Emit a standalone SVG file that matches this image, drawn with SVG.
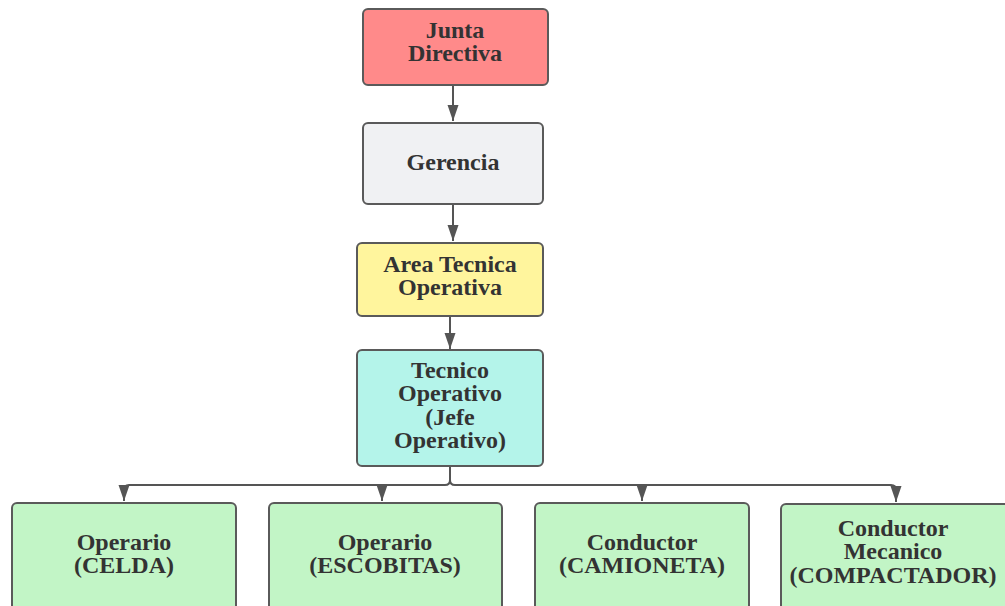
<svg xmlns="http://www.w3.org/2000/svg" width="1005" height="606" viewBox="0 0 1005 606">
<style>
.n{stroke:#5a5a5a;stroke-width:2}
.t{font-family:"Liberation Serif",serif;font-weight:bold;font-size:24px;fill:#333;text-anchor:middle}
.c{fill:none;stroke:#555;stroke-width:2}
</style>
<defs>
<marker id="d" markerWidth="12" markerHeight="16" refX="6" refY="16" orient="0" markerUnits="userSpaceOnUse" viewBox="0 0 12 16">
<path d="M0.5,0 L11.5,0 L6,16 Z" fill="#555"/>
</marker>
</defs>
<rect width="1005" height="606" fill="#fff"/>
<g id="connectors">
<path class="c" d="M453,86 V121" marker-end="url(#d)"/>
<path class="c" d="M453,205 V241" marker-end="url(#d)"/>
<path class="c" d="M450,317 V349" marker-end="url(#d)"/>
<path class="c" d="M450,467 V480 Q450,485 445,485 H129 Q124,485 124,490 V501" marker-end="url(#d)"/>
<path class="c" d="M382,485 V501" marker-end="url(#d)"/>
<path class="c" d="M450,480 Q450,485 455,485 H891 Q896,485 896,490 V502" marker-end="url(#d)"/>
<path class="c" d="M642,485 V501" marker-end="url(#d)"/>
</g>
<g id="junta">
<rect class="n" x="363" y="9" width="185" height="76" rx="5" fill="#ff8a8a"/>
<text class="t" x="455" y="38">Junta</text>
<text class="t" x="455" y="61">Directiva</text>
</g>
<g id="gerencia">
<rect class="n" x="363" y="123" width="180" height="81" rx="5" fill="#f0f1f3"/>
<text class="t" x="453" y="170">Gerencia</text>
</g>
<g id="area">
<rect class="n" x="357" y="243" width="186" height="73" rx="5" fill="#fff59d"/>
<text class="t" x="450" y="272">Area Tecnica</text>
<text class="t" x="450" y="295">Operativa</text>
</g>
<g id="tecnico">
<rect class="n" x="357" y="350" width="186" height="116" rx="5" fill="#b4f4ea"/>
<text class="t" x="450" y="378">Tecnico</text>
<text class="t" x="450" y="401">Operativo</text>
<text class="t" x="450" y="425">(Jefe</text>
<text class="t" x="450" y="448">Operativo)</text>
</g>
<g id="celda">
<rect class="n" x="12" y="503" width="224" height="110" rx="5" fill="#c2f5c6"/>
<text class="t" x="124" y="550">Operario</text>
<text class="t" x="124" y="573">(CELDA)</text>
</g>
<g id="escobitas">
<rect class="n" x="269" y="503" width="233" height="110" rx="5" fill="#c2f5c6"/>
<text class="t" x="385" y="550">Operario</text>
<text class="t" x="385" y="573">(ESCOBITAS)</text>
</g>
<g id="camioneta">
<rect class="n" x="535" y="503" width="214" height="110" rx="5" fill="#c2f5c6"/>
<text class="t" x="642" y="550">Conductor</text>
<text class="t" x="642" y="573">(CAMIONETA)</text>
</g>
<g id="compactador">
<rect class="n" x="781" y="504" width="234" height="110" rx="5" fill="#c2f5c6"/>
<text class="t" x="893" y="536">Conductor</text>
<text class="t" x="893" y="559">Mecanico</text>
<text class="t" x="893" y="583">(COMPACTADOR)</text>
</g>
</svg>
